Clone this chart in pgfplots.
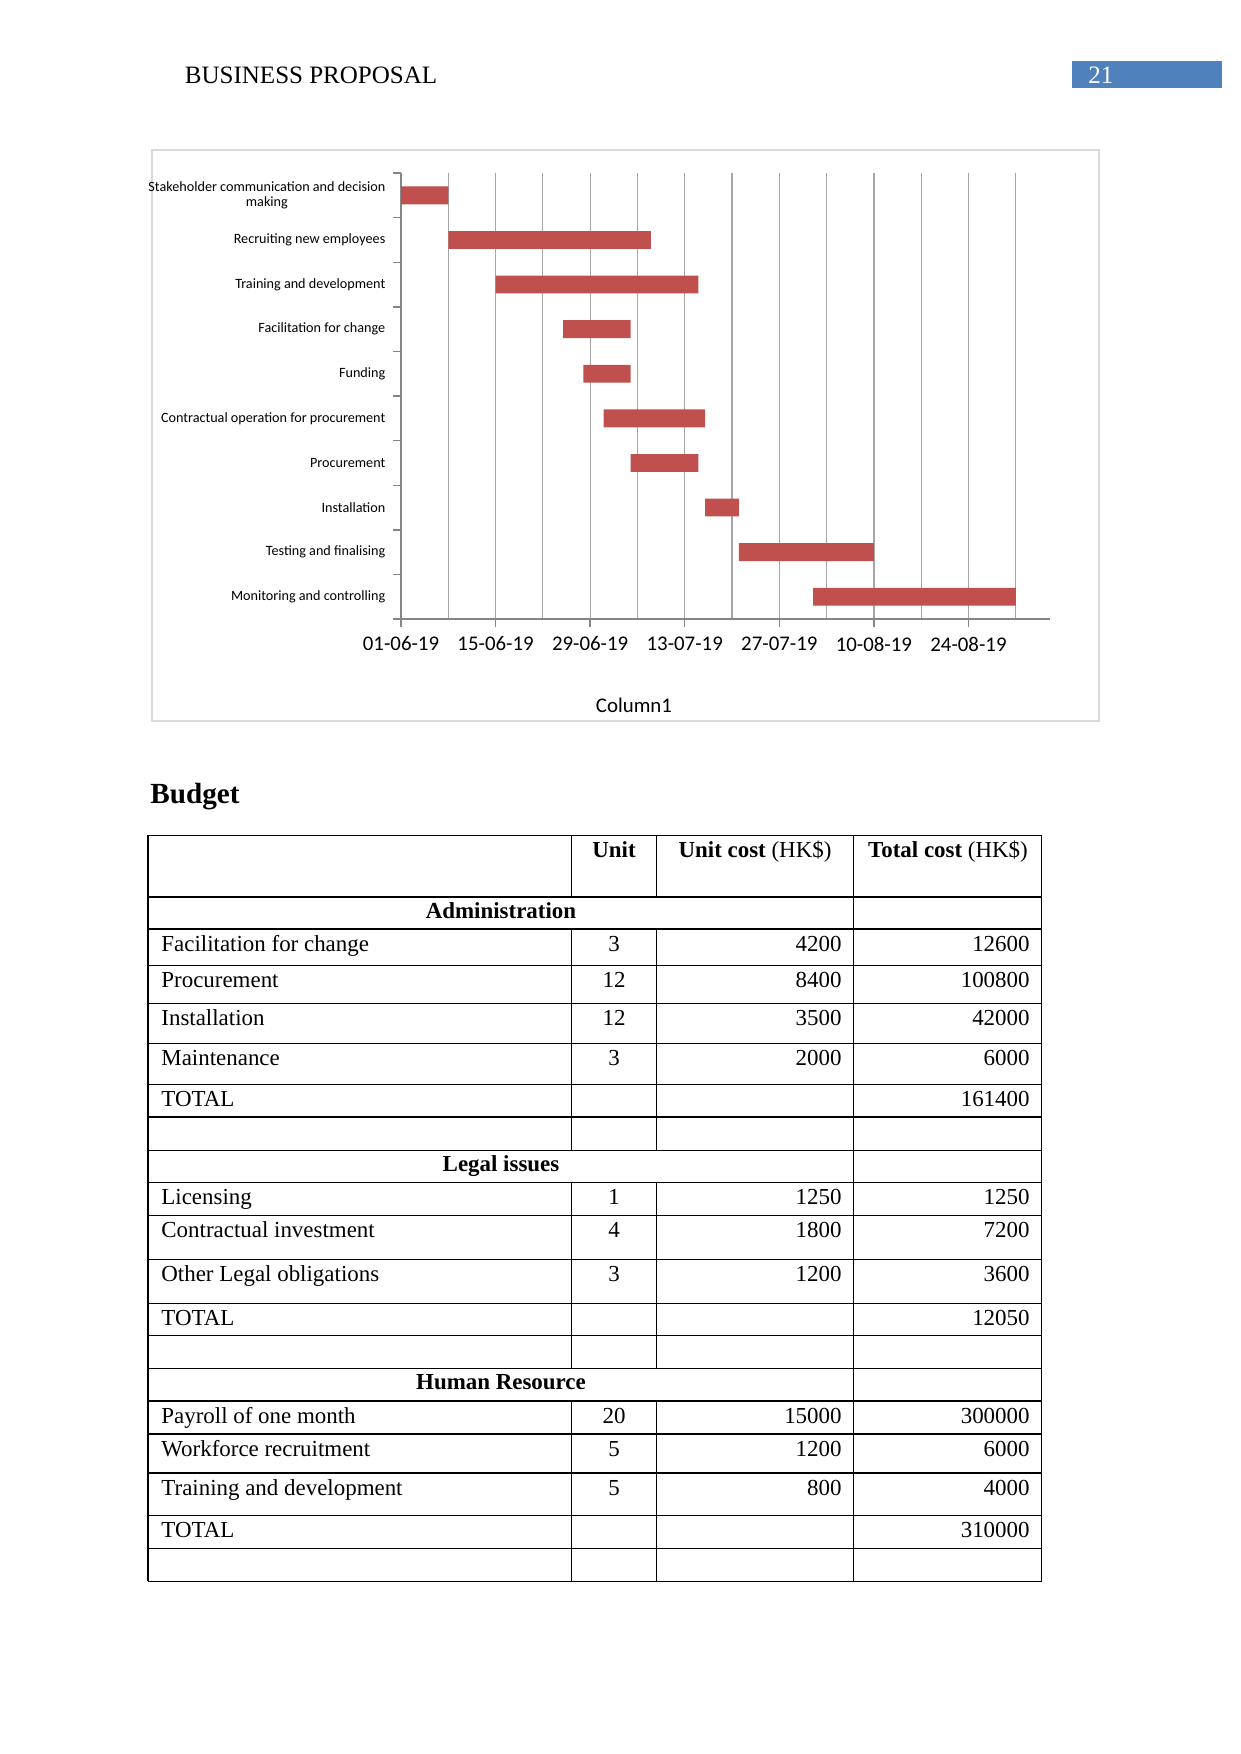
\documentclass[border=0pt]{standalone}
\usepackage{pgfplots}
\pgfplotsset{compat=1.18}
\usepackage{pgfplotstable}
\usepackage{fontspec}
\setmainfont{Liberation Serif}
\newfontfamily\carlito{Carlito}
\definecolor{barred}{HTML}{C0504D}
\definecolor{hdrblue}{HTML}{4F81BD}
\definecolor{boxgray}{HTML}{D9D9D9}
\definecolor{axgray}{HTML}{868686}
\definecolor{gridgray}{HTML}{A6A6A6}

% days after 01-06-19
\pgfplotstableread{
y start dur
10 0 7
9 7 30
8 14 30
7 24 10
6 27 7
5 30 15
4 34 10
3 45 5
2 50 20
1 61 30
}\gantt

\newcommand{\tr}[5]{%
  \node[anchor=base west] at (161,#1+22) {#2};
  \node[anchor=base] at (614,#1+22) {#3};
  \node[anchor=base east] at (842,#1+22) {#4};
  \node[anchor=base east] at (1030,#1+22) {#5};}

\begin{document}
\begin{tikzpicture}[x=0.47968pt,y=-0.47968pt]
\fill[white] (0,0) rectangle (1241,1754);
\path[use as bounding box] (0,0) rectangle (1241,1754);

% header
\node[anchor=base west, inner sep=0pt, font=\fontsize{12}{14}\selectfont] at (184.5,83.3) {BUSINESS PROPOSAL};
\fill[hdrblue] (1072,61) rectangle (1222,88);
\node[anchor=base west, inner sep=0pt, text=white, font=\fontsize{12}{14}\selectfont] at (1088,83.3) {21};

% chart frame
\draw[boxgray, line width=0.7pt] (152,150) rectangle (1099,721);

\begin{axis}[
  at={(192.35pt,-296.92pt)}, anchor=south west,
  scale only axis, width=311.1pt, height=213.9pt,
  xmin=0, xmax=96, ymin=0.5, ymax=10.5,
  axis x line*=bottom, axis y line*=left,
  axis line style={draw=axgray, line width=0.8pt, -},
  xbar stacked, bar width=0.4,
  xtick={0,14,...,84},
  xticklabels={01-06-19,15-06-19,29-06-19,13-07-19,27-07-19,10-08-19,24-08-19},
  minor xtick={7,21,...,91},
  xmajorgrids, xminorgrids,
  major grid style={draw=gridgray, line width=0.6pt},
  minor grid style={draw=gridgray, line width=0.6pt},
  minor tick length=0pt,
  ytick={0.5,1.5,...,10.5},
  yticklabels={,Monitoring and controlling,Testing and finalising,Installation,Procurement,Contractual operation for procurement,Funding,Facilitation for change,Training and development,Recruiting new employees,{Stakeholder communication and decision\\making}},
  yticklabel style={font=\carlito\fontsize{6.8}{7.2}\selectfont, align=center, yshift=-10.7pt},
  xticklabel style={font=\carlito\fontsize{10}{12}\selectfont, yshift=-1pt},
  tick align=outside, major tick length=4pt,
  tick style={draw=axgray, line width=0.7pt},
]
\addplot[draw=none, fill=none] table[x=start, y=y] {\gantt};
\addplot[draw=none, fill=barred] table[x=dur, y=y] {\gantt};
\end{axis}

\node[font=\carlito\fontsize{10}{12}\selectfont] at (634,705) {Column1};

% Budget heading
\node[anchor=base west, inner sep=0pt, font=\fontsize{14}{16}\selectfont\bfseries] at (150,803) {Budget};

% table lines
\begin{scope}[line width=0.55pt]
\foreach \yy in {835.3,929,965.3,1003.3,1043.3,1084.3,1117,1150.3,1182.3,1215.3,1259.3,1303.3,1335.3,1368.3,1401,1434,1473,1515.3,1548.3,1581.3}
  \draw (148,\yy) -- (1041.5,\yy);
\draw[line width=1.1pt] (148,896.7) -- (1041.5,896.7);
\draw[line width=0.6pt] (148,835.3) -- (148,1581.3);
\draw[line width=0.6pt] (1041.5,835.3) -- (1041.5,1581.3);
\draw[line width=0.45pt] (853.5,835.3) -- (853.5,1581.3);
\foreach \xx in {571.5,656.5}{
  \draw[line width=0.45pt] (\xx,835.3) -- (\xx,896.7);
  \draw[line width=0.45pt] (\xx,929) -- (\xx,1150.3);
  \draw[line width=0.45pt] (\xx,1182.3) -- (\xx,1368.3);
  \draw[line width=0.45pt] (\xx,1401) -- (\xx,1581.3);
}
\end{scope}

\begin{scope}[every node/.style={inner sep=0pt, font=\fontsize{11}{13}\selectfont}]
\node[anchor=base] at (614,857.3) {\bfseries Unit};
\node[anchor=base] at (755,857.3) {\textbf{Unit cost} (HK\$)};
\node[anchor=base] at (948,857.3) {\textbf{Total cost} (HK\$)};
\node[anchor=base] at (501,918) {\bfseries Administration};
\tr{929}{Facilitation for change}{3}{4200}{12600}
\tr{965.3}{Procurement}{12}{8400}{100800}
\tr{1003.3}{Installation}{12}{3500}{42000}
\tr{1043.3}{Maintenance}{3}{2000}{6000}
\tr{1084.3}{TOTAL}{}{}{161400}
\node[anchor=base] at (501,1171.3) {\bfseries Legal issues};
\tr{1182.3}{Licensing}{1}{1250}{1250}
\tr{1215.3}{Contractual investment}{4}{1800}{7200}
\tr{1259.3}{Other Legal obligations}{3}{1200}{3600}
\tr{1303.3}{TOTAL}{}{}{12050}
\node[anchor=base] at (501,1389.3) {\bfseries Human Resource};
\tr{1401}{Payroll of one month}{20}{15000}{300000}
\tr{1434}{Workforce recruitment}{5}{1200}{6000}
\tr{1473}{Training and development}{5}{800}{4000}
\tr{1515.3}{TOTAL}{}{}{310000}
\end{scope}
\end{tikzpicture}
\end{document}
